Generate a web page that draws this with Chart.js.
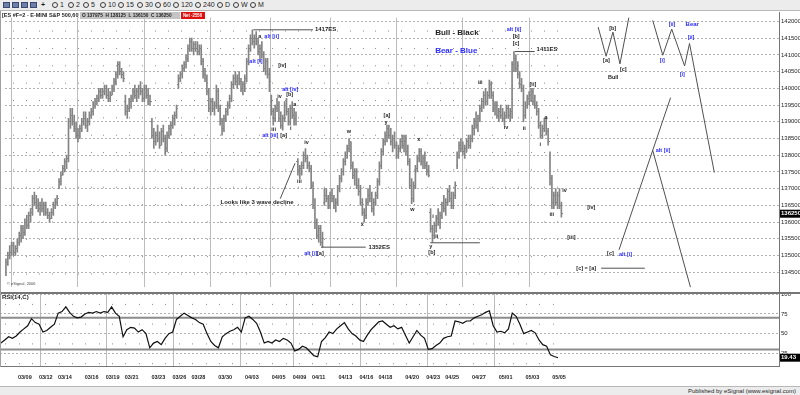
<!DOCTYPE html>
<html>
<head>
<meta charset="utf-8">
<title>ES #F=2 60 min</title>
<script src="https://cdn.jsdelivr.net/npm/chart.js@4.4.1/dist/chart.umd.min.js"></script>
<style>
    html, body { margin: 0; padding: 0; }
    body { width: 800px; height: 395px; overflow: hidden; position: relative; background: #fff;
           font-family: "Liberation Sans", Arial, sans-serif; color: #1e1e1e; }
    #toolbar { position: absolute; left: 0; top: 0; width: 800px; height: 10px; background: #ececec;
               border-bottom: 1px solid #b8b8b8; font-size: 7px; line-height: 10px; white-space: nowrap; }
    #toolbar .ico { position: absolute; top: 2px; width: 7px; height: 6px; background: #6d7fa8; border: 1px solid #3a4a70; box-sizing: border-box; }
    #toolbar .tf { position: absolute; top: 0; }
    #toolbar .tf i { display: inline-block; width: 6px; height: 6px; border: 1px solid #3c3c3c; border-radius: 50%;
                     box-sizing: border-box; margin-right: 2px; vertical-align: -1px; }
    .hdr { position: absolute; top: 12px; height: 7px; font-size: 5.5px; line-height: 7px; font-weight: bold;
           white-space: nowrap; overflow: hidden; z-index: 2; }
    .hdr span { display: inline-block; transform-origin: left center; }
    #hTitle { left: 2px; width: 77px; }
    #hOhlc { left: 80px; width: 100px; background: #c4c4c4; padding-left: 2px; box-sizing: border-box; }
    #hOhlc span { transform: scaleX(0.86); }
    #hNet { left: 181px; width: 24px; background: #e01010; color: #fff; padding-left: 2px; box-sizing: border-box; }
    #hNet span { transform: scaleX(0.78); }
    #priceCanvas { position: absolute; left: 0; top: 12px; }
    #rsiCanvas { position: absolute; left: 0; top: 286px; }
    .rule { position: absolute; background: #767676; }
    #rsiTitle { position: absolute; left: 2px; top: 294px; font-size: 6px; font-weight: bold; line-height: 7px; }
    #status { position: absolute; left: 0; top: 386px; width: 800px; height: 9px; background: #ececec;
              border-top: 1px solid #b8b8b8; font-size: 6px; line-height: 9px; text-align: right; box-sizing: border-box; padding-right: 4px; }
</style>
</head>
<body>
<div id="toolbar"></div>
<div class="hdr" id="hTitle">[ES #F=2 - E-MINI S&amp;P 500,60]</div>
<div class="hdr" id="hOhlc"><span>O 137975 &nbsp;H 138125 &nbsp;L 136150 &nbsp;C 136250</span></div>
<div class="hdr" id="hNet"><span>Net -2550</span></div>
<canvas id="priceCanvas" width="800" height="281"></canvas>
<canvas id="rsiCanvas" width="800" height="100"></canvas>
<div class="rule" style="left:0;top:292px;width:800px;height:2px"></div>
<div class="rule" style="left:0;top:366px;width:780px;height:1px"></div>
<div class="rule" style="left:779px;top:12px;width:1px;height:355px"></div>
<div class="rule" style="left:0;top:11px;width:1px;height:356px;background:#a0a0a0"></div>
<div id="rsiTitle">RSI(14,C)</div>
<div id="status">Published by eSignal (www.esignal.com)</div>

<script>
(function () {

    // 60 min bars, 7 per session, 03/07 .. 05/04
    var ohlcOpen = [
        1345,1348,1350,1351,1353,1351,1352, 1354,1356,1358,1357,1360,1359,1362,
        1364,1367,1366,1365,1364,1365,1364, 1365,1363,1362,1361,1363,1365,1366,
        1370,1372,1374,1376,1378,1379,1390, 1392,1390,1388,1386,1385,1388,1390,
        1391,1389,1390,1392,1393,1395,1396, 1397,1399,1398,1399,1400,1398,1397,
        1398,1400,1402,1404,1407,1405,1404, 1396,1393,1394,1396,1397,1399,1398,
        1399,1400,1399,1397,1400,1398,1396, 1390,1386,1384,1386,1385,1383,1387,
        1385,1382,1386,1388,1389,1391,1392, 1401,1403,1404,1406,1407,1409,1412,
        1414,1412,1413,1412,1411,1412,1408, 1404,1403,1399,1394,1396,1394,1395,
        1399,1394,1390,1388,1391,1393,1395, 1397,1401,1403,1402,1403,1402,1400,
        1401,1403,1408,1412,1415,1414,1415, 1414,1411,1412,1410,1406,1408,1404,
        1396,1393,1391,1394,1395,1391,1389, 1391,1395,1393,1390,1394,1392,1391,
        1378,1375,1376,1377,1380,1379,1377, 1376,1371,1365,1360,1356,1358,1354,
        1366,1368,1367,1365,1368,1367,1365, 1366,1370,1373,1375,1378,1380,1382,
        1383,1377,1374,1375,1371,1369,1366, 1363,1362,1366,1368,1367,1364,1366,
        1368,1372,1377,1381,1384,1386,1388, 1386,1384,1385,1383,1380,1382,1384,
        1383,1384,1381,1378,1371,1367,1371, 1376,1379,1381,1378,1379,1377,1375,
        1363,1358,1356,1359,1361,1360,1362, 1365,1364,1366,1369,1367,1365,1368,
        1377,1380,1383,1382,1381,1382,1384, 1383,1385,1388,1390,1389,1391,1394,
        1396,1398,1396,1398,1401,1398,1394, 1395,1392,1393,1392,1391,1392,1394,
        1392,1393,1407,1409,1406,1404,1401, 1400,1392,1395,1397,1398,1399,1396,
        1395,1393,1389,1386,1388,1390,1387, 1380,1373,1366,1368,1366,1368,1365
    ];
    var ohlcHigh = [
        1349,1351,1353,1354,1354,1353,1355, 1357,1359,1359,1361,1362,1363,1364,
        1368,1369,1368,1367,1366,1367,1366, 1366,1364,1363,1364,1366,1367,1368,
        1373,1375,1377,1379,1380,1391,1394, 1394,1392,1390,1388,1389,1391,1393,
        1393,1391,1393,1394,1396,1397,1398, 1400,1400,1400,1401,1401,1400,1399,
        1401,1403,1405,1408,1408,1406,1405, 1398,1395,1397,1398,1400,1401,1400,
        1401,1402,1400,1401,1401,1400,1398, 1391,1388,1387,1389,1387,1388,1389,
        1386,1387,1389,1390,1392,1393,1395, 1404,1405,1407,1408,1410,1413,1415,
        1415,1414,1414,1414,1413,1413,1409, 1406,1404,1400,1397,1397,1396,1401,
        1400,1395,1391,1392,1394,1396,1398, 1402,1404,1405,1404,1405,1403,1402,
        1404,1409,1413,1416,1417.5,1416,1417, 1415,1413,1414,1411,1409,1409,1406,
        1398,1394,1395,1397,1396,1393,1392, 1396,1397,1394,1395,1396,1394,1393,
        1379,1377,1378,1381,1382,1380,1378, 1377,1372,1367,1361,1359,1359,1357,
        1370,1370,1368,1369,1370,1368,1367, 1371,1374,1376,1379,1381,1383,1385,
        1384,1378,1376,1376,1373,1371,1367, 1364,1367,1370,1371,1369,1367,1369,
        1373,1378,1382,1385,1387,1389,1389, 1388,1386,1387,1384,1383,1385,1386,
        1386,1386,1383,1379,1373,1372,1377, 1380,1382,1382,1380,1381,1378,1377,
        1364,1359,1360,1362,1364,1363,1366, 1368,1367,1370,1371,1369,1369,1372,
        1381,1384,1385,1384,1383,1385,1386, 1386,1389,1391,1393,1392,1395,1397,
        1399,1400,1399,1402.5,1402,1399,1396, 1396,1394,1395,1394,1393,1395,1395,
        1394,1408,1411,1410,1408,1405,1403, 1401,1396,1398,1399,1400,1400,1398,
        1396,1394,1390,1389,1391,1391,1388, 1381,1374,1369,1370,1369,1370,1366
    ];
    var ohlcLow = [
        1344,1347,1349,1350,1350,1350,1351, 1353,1354,1355,1356,1358,1358,1360,
        1362,1365,1364,1363,1362,1363,1362, 1362,1361,1360,1361,1362,1364,1365,
        1370,1371,1374,1375,1376,1378,1388, 1389,1387,1385,1384,1385,1387,1389,
        1388,1387,1389,1391,1392,1394,1395, 1396,1397,1397,1398,1397,1396,1396,
        1398,1399,1401,1403,1404,1403,1402, 1392,1391,1393,1394,1396,1397,1396,
        1397,1398,1396,1396,1397,1395,1395, 1385,1382,1383,1384,1382,1383,1384,
        1380,1381,1385,1386,1388,1389,1391, 1400,1402,1403,1405,1406,1408,1411,
        1411,1410,1411,1410,1410,1407,1403, 1402,1398,1393,1392,1393,1392,1394,
        1393,1389,1386,1387,1390,1392,1394, 1396,1400,1401,1400,1401,1399,1398,
        1399,1402,1407,1411,1413,1412,1413, 1410,1408,1409,1405,1404,1403,1399,
        1392,1389,1390,1393,1390,1388,1387.5, 1390,1392,1389,1389,1391,1389,1389,
        1374,1373,1374,1376,1378,1376,1375, 1370,1364,1358,1355,1354,1353,1352.5,
        1365,1366,1364,1364,1366,1364,1363, 1365,1369,1372,1374,1377,1379,1381,
        1376,1373,1371,1370,1368,1365,1362, 1360,1361,1365,1366,1363,1362,1365,
        1367,1371,1376,1380,1383,1384,1385, 1383,1381,1382,1379,1379,1381,1382,
        1381,1380,1377,1370,1365.5,1366,1370, 1375,1378,1377,1376,1376,1374,1373.5,
        1357,1354,1355,1357,1359,1358,1361, 1363,1362,1365,1366,1364,1364,1367,
        1376,1379,1381,1380,1379,1381,1382, 1382,1384,1386,1388,1387,1390,1393,
        1394,1395,1395,1397,1397,1393,1392, 1391,1390,1391,1390,1389,1391,1391,
        1390,1391,1405,1405,1403,1400,1399, 1390,1391,1394,1395,1396,1395,1394,
        1392,1388,1385,1385,1387,1386,1383, 1371,1364,1364,1365,1364,1364,1361.5
    ];
    var ohlcClose = [
        1348,1350,1351,1353,1351,1352,1354, 1356,1358,1357,1360,1359,1362,1363,
        1367,1366,1365,1364,1365,1364,1365, 1363,1362,1361,1363,1365,1366,1367,
        1372,1374,1376,1378,1379,1390,1392, 1390,1388,1386,1385,1388,1390,1391,
        1389,1390,1392,1393,1395,1396,1397, 1399,1398,1399,1400,1398,1397,1398,
        1400,1402,1404,1407,1405,1404,1403, 1393,1394,1396,1397,1399,1398,1399,
        1400,1399,1397,1400,1398,1396,1396, 1386,1384,1386,1385,1383,1387,1385,
        1382,1386,1388,1389,1391,1392,1394, 1403,1404,1406,1407,1409,1412,1414,
        1412,1413,1412,1411,1412,1408,1404, 1403,1399,1394,1396,1394,1395,1399,
        1394,1390,1388,1391,1393,1395,1397, 1401,1403,1402,1403,1402,1400,1401,
        1403,1408,1412,1415,1414,1415,1414, 1411,1412,1410,1406,1408,1404,1402,
        1393,1391,1394,1395,1391,1389,1391, 1395,1393,1390,1394,1392,1391,1392,
        1375,1376,1377,1380,1379,1377,1376, 1371,1365,1360,1356,1358,1354,1355,
        1368,1367,1365,1368,1367,1365,1366, 1370,1373,1375,1378,1380,1382,1384,
        1377,1374,1375,1371,1369,1366,1363, 1362,1366,1368,1367,1364,1366,1368,
        1372,1377,1381,1384,1386,1388,1386, 1384,1385,1383,1380,1382,1384,1383,
        1384,1381,1378,1371,1367,1371,1376, 1379,1381,1378,1379,1377,1375,1374,
        1358,1356,1359,1361,1360,1362,1365, 1364,1366,1369,1367,1365,1368,1371,
        1380,1383,1382,1381,1382,1384,1383, 1385,1388,1390,1389,1391,1394,1396,
        1398,1396,1398,1401,1398,1394,1395, 1392,1393,1392,1391,1392,1394,1392,
        1393,1407,1409,1406,1404,1401,1400, 1392,1395,1397,1398,1399,1396,1395,
        1393,1389,1386,1388,1390,1387,1384, 1373,1366,1368,1366,1368,1365,1362.5
    ];

    // RSI(14,C), one reading every second bar
    var rsiValues = [
        38,42,46,44,47,52,56,60,69,64, 62,52,54,58,62,76,78,84,77,72,
        70,71,75,77,76,78,76,78,77,84, 76,72,46,55,58,57,52,55,50,32,
        38,40,36,44,50,52,68,72,76,73, 70,68,64,62,50,40,35,32,46,50,
        53,55,58,52,70,72,68,63,52,38, 40,38,42,40,44,42,38,28,30,34,
        32,27,22,20.5,40,45,52,50,56,60, 64,56,50,47,42,40,48,55,60,65,
        66,62,58,60,56,58,48,38,46,54, 48,44,30,31,35,38,44,46,47,66,
        65,63,66,66,70,72,74,77,79,60, 52,53,51,56,76,72,62,50,52,54,
        51,42,36,34,23,21,19.43
    ];
    var rsiLevels = [70, 30];

    var priceTicks = [1345, 1350, 1355, 1360, 1365, 1370, 1375, 1380, 1385, 1390, 1395, 1400, 1405, 1410, 1415, 1420];
    var rsiTicks = [25, 50, 75, 100];
    var tickDates = ['03/09', '03/12', '03/14', '03/16', '03/19', '03/21', '03/23', '03/26', '03/28', '03/30', '04/03', '04/05',
                     '04/09', '04/11', '04/13', '04/16', '04/18', '04/20', '04/23', '04/25', '04/27', '05/01', '05/03', '05/05'];
    var tickDays = [2, 3, 5, 7, 8, 10, 12, 13, 15, 17, 19, 21, 22, 24, 26, 27, 29, 31, 32, 34, 36, 38, 40, 42];
    var weekStartDays = [3, 8, 13, 18, 22, 27, 32, 37];
    var sessionCount = 42;

    // wave counts: text, bar, price, colour, size
    var waveLabels = [
        ['1417ES', 163.0, 1417.7, 'k', 6],
        ['a', 133.1, 1415.4, 'k'],
        ['alt [ii]', 136.3, 1415.4, 'b'],
        ['alt [i]', 128.4, 1407.9, 'b'],
        ['[iv]', 143.6, 1406.7, 'k'],
        ['alt [iv]', 145.7, 1399.8, 'b'],
        ['[b]', 147.8, 1398.1, 'k'],
        ['iv', 143.1, 1397.5, 'k'],
        ['a', 151.5, 1395.2, 'k'],
        ['iii', 140.0, 1387.7, 'k'],
        ['i', 149.9, 1388.0, 'k'],
        ['alt [iii]', 135.2, 1386.0, 'b'],
        ['[a]', 144.7, 1386.0, 'k'],
        ['iv', 157.3, 1383.7, 'k'],
        ['w', 179.8, 1387.1, 'k'],
        ['[a]', 199.2, 1391.8, 'k'],
        ['y', 199.7, 1389.7, 'k'],
        ['Bull - Black', 226.4, 1416.5, 'k', 8],
        ['Bear - Blue', 226.4, 1411.1, 'b', 8],
        ['alt [ii]', 264.2, 1417.7, 'b'],
        ['[b]', 267.3, 1415.4, 'k'],
        ['[c]', 267.3, 1413.4, 'k'],
        ['1411ES', 279.9, 1411.6, 'k', 6],
        ['iii', 249.0, 1401.8, 'k'],
        ['[ii]', 276.2, 1401.0, 'k'],
        ['iv', 262.6, 1388.3, 'k'],
        ['ii', 272.6, 1388.0, 'k'],
        ['a', 284.1, 1391.2, 'k'],
        ['i', 281.5, 1383.1, 'k'],
        ['iii', 286.7, 1362.4, 'k'],
        ['iv', 293.5, 1369.3, 'k'],
        ['[iv]', 306.6, 1364.4, 'k'],
        ['[iii]', 296.1, 1355.4, 'k'],
        ['[c]', 317.1, 1350.5, 'k'],
        ['alt [i]', 323.4, 1350.3, 'b'],
        ['[c] = [a]', 300.9, 1346.2, 'k'],
        ['alt [ii]', 342.8, 1381.4, 'b'],
        ['[b]', 318.2, 1418.0, 'k'],
        ['[a]', 315.0, 1408.2, 'k'],
        ['[c]', 323.9, 1405.6, 'k'],
        ['Bull', 317.6, 1403.3, 'k'],
        ['[ii]', 349.6, 1419.1, 'b'],
        ['Bear', 358.5, 1419.1, 'b', 6],
        ['[ii]', 359.6, 1415.1, 'b'],
        ['[i]', 344.9, 1408.2, 'b'],
        ['[i]', 355.4, 1404.1, 'b'],
        ['Looks like 3 wave decline', 113.2, 1365.8, 'k', 6],
        ['iii', 153.6, 1372.2, 'k'],
        ['1352ES', 191.3, 1352.3, 'k', 6],
        ['x', 187.1, 1359.2, 'k'],
        ['w', 213.3, 1363.8, 'k'],
        ['y', 223.3, 1352.6, 'k'],
        ['[b]', 222.8, 1350.8, 'k'],
        ['i', 224.9, 1361.8, 'k'],
        ['ii', 226.4, 1355.7, 'k'],
        ['alt [i]', 157.3, 1350.5, 'b'],
        ['[a]', 164.1, 1350.5, 'k'],
        ['x', 217.0, 1384.6, 'k']
    ];

    // drawn trend/level lines and projected paths, in bar / price
    var guideLines = [
        [[130.5, 1417.5], [162, 1417.5]],
        [[166.2, 1352.5], [189.8, 1352.5]],
        [[268.4, 1411], [278.9, 1411]],
        [[223.8, 1353.8], [250, 1353.8]],
        [[314, 1346.2], [337, 1346.2]],
        [[144.7, 1367], [152.5, 1377.6]],
        [[312.4, 1418.3], [316.6, 1409.6], [320.2, 1416.8], [323.9, 1407.3], [328.6, 1421.2]],
        [[341.2, 1420.3], [346.5, 1409.9], [351.2, 1417.7], [358.0, 1406.7], [360.6, 1413.4], [373.7, 1374.8]],
        [[323.4, 1351.7], [350.6, 1397.2]],
        [[341.2, 1381.4], [361.1, 1340.5]]
    ];

    var INK = '#1e1e1e';
    var BLUE = '#2c2cff';
    var BAR = '#848484';
    var GRID = '#b2b2b2';
    var FONT = '"Liberation Sans", Arial, sans-serif';
    var BARS_PER_DAY = 7;
    var X_MIN = -0.5, X_MAX = 407.8;

    buildToolbar();

    function dayPos(d) {
        return d * BARS_PER_DAY - 0.5;
    }

    function buildToolbar() {
        var bar = document.getElementById('toolbar');
        var icons = [3, 12, 21, 30];
        icons.forEach(function (x) {
            var s = document.createElement('span');
            s.className = 'ico';
            s.style.left = x + 'px';
            bar.appendChild(s);
        });
        var plus = document.createElement('span');
        plus.className = 'tf';
        plus.style.left = '41px';
        plus.style.fontWeight = 'bold';
        plus.textContent = '+';
        bar.appendChild(plus);
        var tf = [['1', 52], ['2', 68], ['5', 83], ['10', 100], ['15', 118], ['30', 137], ['60', 155],
                  ['120', 173], ['240', 195], ['D', 217], ['W', 233], ['M', 250]];
        tf.forEach(function (t) {
            var s = document.createElement('span');
            s.className = 'tf';
            s.style.left = t[1] + 'px';
            s.innerHTML = '<i></i>' + t[0];
            bar.appendChild(s);
        });
    }

    function tickImage(side) {
        var c = document.createElement('canvas');
        c.width = 3;
        c.height = 1;
        var g = c.getContext('2d');
        g.fillStyle = BAR;
        g.fillRect(side === 'open' ? 0 : 2, 0, 1, 1);
        return c;
    }

    function gridAxis(values, color, dash, offset) {
        return {
            type: 'linear', position: 'bottom', min: X_MIN, max: X_MAX,
            afterBuildTicks: function (s) { s.ticks = values.map(function (v) { return { value: v }; }); },
            afterFit: function (s) { s.height = 0; },
            ticks: { display: false },
            grid: { color: color, lineWidth: 1, drawTicks: false },
            border: { display: false, dash: dash, dashOffset: offset }
        };
    }

    var weekLines = weekStartDays.map(dayPos);
    var dayDots = [];
    for (var d = 0; d < sessionCount; d++) {
        dayDots.push(dayPos(d) + 3);
    }

    var labelPlugin = {
        id: 'waveLabels',
        afterDatasetsDraw: function (chart) {
            var ctx = chart.ctx, x = chart.scales.x, y = chart.scales.y;
            ctx.save();
            ctx.textBaseline = 'middle';
            ctx.textAlign = 'left';
            waveLabels.forEach(function (l) {
                ctx.font = 'bold ' + (l[4] || 5.5) + 'px ' + FONT;
                ctx.fillStyle = l[3] === 'b' ? BLUE : INK;
                ctx.fillText(l[0], x.getPixelForValue(l[1]), y.getPixelForValue(l[2]));
            });
            ctx.font = '4px ' + FONT;
            ctx.fillStyle = '#444';
            ctx.fillText('\u00a9 eSignal, 2006', chart.chartArea.left + 2, chart.chartArea.bottom - 4);
            ctx.restore();
        }
    };

    function lastValuePlugin(values, fmt) {
        return {
            id: 'lastValue',
            afterDraw: function (chart) {
                var ctx = chart.ctx, ca = chart.chartArea;
                var v = values[values.length - 1];
                var py = chart.scales.y.getPixelForValue(v);
                ctx.save();
                ctx.fillStyle = '#000';
                ctx.fillRect(ca.right + 1, py - 4, 20, 8);
                ctx.fillStyle = '#fff';
                ctx.font = 'bold 6px ' + FONT;
                ctx.textBaseline = 'middle';
                ctx.textAlign = 'left';
                ctx.fillText(fmt(v), ca.right + 2, py);
                ctx.restore();
            }
        };
    }

    var priceDatasets = guideLines.map(function (line) {
        return {
            type: 'line',
            data: line.map(function (p) { return { x: p[0], y: p[1] }; }),
            borderColor: '#505050', borderWidth: 1, pointRadius: 0, fill: false, tension: 0
        };
    });
    priceDatasets.push({
        type: 'scatter',
        data: ohlcOpen.map(function (v, i) { return { x: i, y: v }; }),
        pointStyle: tickImage('open'), pointRadius: 1
    });
    priceDatasets.push({
        type: 'scatter',
        data: ohlcClose.map(function (v, i) { return { x: i, y: v }; }),
        pointStyle: tickImage('close'), pointRadius: 1
    });
    priceDatasets.push({
        type: 'bar',
        data: ohlcHigh.map(function (h, i) { return { x: i, y: [ohlcLow[i], h] }; }),
        backgroundColor: BAR, borderWidth: 0, barThickness: 1, grouped: false
    });

    new Chart(document.getElementById('priceCanvas'), {
        type: 'bar',
        data: { datasets: priceDatasets },
        options: {
            responsive: false,
            animation: false,
            events: [],
            layout: { padding: 0 },
            plugins: { legend: { display: false }, tooltip: { enabled: false } },
            scales: {
                x: Object.assign(gridAxis(weekLines, '#bcbcbc', [], 0), { offset: false }),
                xd: gridAxis(dayDots, '#8a8a8a', [1, 16.35], 4.35),
                y: {
                    type: 'linear', position: 'right', min: 1340.46, max: 1421.15,
                    afterBuildTicks: function (s) { s.ticks = priceTicks.map(function (v) { return { value: v }; }); },
                    afterFit: function (s) { s.width = 21; },
                    ticks: {
                        color: INK, padding: 2, font: { family: FONT, size: 6 },
                        callback: function (v) { return String(Math.round(v * 100)); }
                    },
                    grid: { color: GRID, drawTicks: false },
                    border: { display: false, dash: [2, 2] }
                }
            }
        },
        plugins: [labelPlugin, lastValuePlugin(ohlcClose, function (v) { return String(Math.round(v * 100)); })]
    });

    var rsiDatasets = rsiLevels.map(function (l) {
        return {
            type: 'line',
            data: [{ x: X_MIN, y: l }, { x: X_MAX, y: l }],
            borderColor: '#8c8c8c', borderWidth: 2, pointRadius: 0, fill: false
        };
    });
    rsiDatasets.unshift({
        type: 'line',
        data: rsiValues.map(function (v, k) { return { x: k * 2, y: v }; }),
        borderColor: '#101010', borderWidth: 1.2, pointRadius: 0, fill: false, tension: 0
    });

    var labelPos = tickDays.map(function (d) {
        return weekStartDays.indexOf(d) >= 0 ? d * BARS_PER_DAY + 2.5 : d * BARS_PER_DAY - 1.5;
    });

    new Chart(document.getElementById('rsiCanvas'), {
        type: 'line',
        data: { datasets: rsiDatasets },
        options: {
            responsive: false,
            animation: false,
            events: [],
            layout: { padding: { top: 8, right: 0, bottom: 0, left: 0 } },
            plugins: { legend: { display: false }, tooltip: { enabled: false } },
            scales: {
                x: {
                    type: 'linear', position: 'bottom', min: X_MIN, max: X_MAX,
                    afterBuildTicks: function (s) { s.ticks = labelPos.map(function (v) { return { value: v }; }); },
                    afterFit: function (s) { s.height = 20; },
                    ticks: {
                        autoSkip: false, maxRotation: 0, padding: 8, color: INK,
                        font: { family: FONT, size: 5.5, weight: 'bold' },
                        callback: function (v, i) { return tickDates[i]; }
                    },
                    grid: { display: false, drawTicks: false },
                    border: { display: false }
                },
                xw: gridAxis(weekLines, '#bcbcbc', [], 0),
                xd: gridAxis(dayDots, '#8a8a8a', [1, 18.75], 9.85),
                y: {
                    type: 'linear', position: 'right', min: 8.9, max: 100.3,
                    afterBuildTicks: function (s) { s.ticks = rsiTicks.map(function (v) { return { value: v }; }); },
                    afterFit: function (s) { s.width = 21; },
                    ticks: { color: INK, padding: 2, font: { family: FONT, size: 6 } },
                    grid: { color: GRID, drawTicks: false },
                    border: { display: false, dash: [2, 2] }
                }
            }
        },
        plugins: [lastValuePlugin(rsiValues, function (v) { return v.toFixed(2); })]
    });

})();
</script>
</body>
</html>
